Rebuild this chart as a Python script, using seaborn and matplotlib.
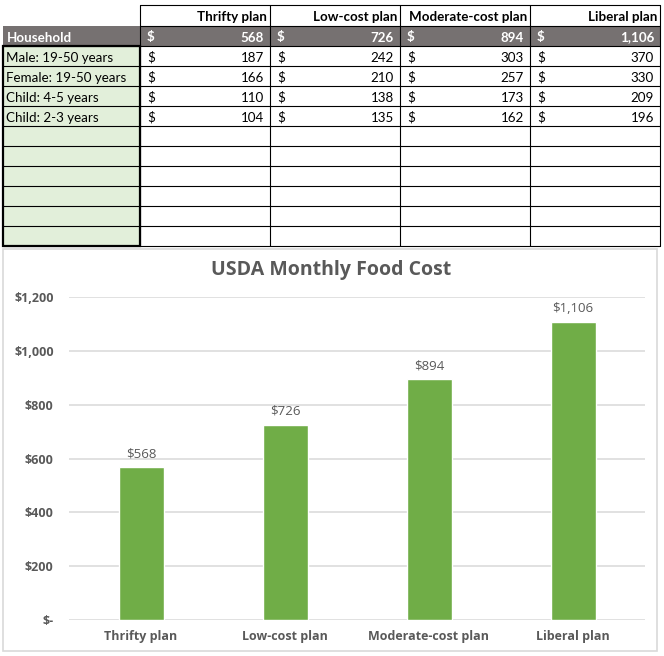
import matplotlib
matplotlib.use("Agg")
import matplotlib.pyplot as plt
import seaborn as sns
import pandas as pd
from matplotlib.patches import Rectangle
from matplotlib.ticker import FuncFormatter

# ---------------- data ----------------
plans = ["Thrifty plan", "Low-cost plan", "Moderate-cost plan", "Liberal plan"]
household = [568, 726, 894, 1106]
members = ["Male: 19-50 years", "Female: 19-50 years", "Child: 4-5 years", "Child: 2-3 years"]
male = [187, 242, 303, 370]
female = [166, 210, 257, 330]
child_4_5 = [110, 138, 173, 209]
child_2_3 = [104, 135, 162, 196]
household_label = "Household"
chart_title = "USDA Monthly Food Cost"
y_ticks = [0, 200, 400, 600, 800, 1000, 1200]

member_rows = [male, female, child_4_5, child_2_3]

# ---------------- style ----------------
sns.set_theme(style="white")
plt.rcParams["font.family"] = ["Lato", "DejaVu Sans"]

W, H = 664, 656
fig = plt.figure(figsize=(W / 100, H / 100), dpi=100)
fig.patch.set_facecolor("white")

# ---------------- table (pixel-space axes) ----------------
ax_t = fig.add_axes([0, 0, 1, 1])
ax_t.set_xlim(0, W)
ax_t.set_ylim(H, 0)
ax_t.axis("off")

col_x = [3, 140, 270, 400, 530, 660]
row_y = [5, 26, 46, 66, 86, 106, 126, 146, 166, 186, 206, 226, 246]
thin = 0.8
thick = 1.6
tfs = 9.6

# backgrounds
ax_t.add_patch(Rectangle((col_x[0], row_y[1]), col_x[-1] - col_x[0], row_y[2] - row_y[1],
                         facecolor="#767171", edgecolor="none", zorder=1))
ax_t.add_patch(Rectangle((col_x[0], row_y[2]), col_x[1] - col_x[0], row_y[-1] - row_y[2],
                         facecolor="#E2EFDA", edgecolor="none", zorder=1))

# horizontal grid lines
for i, y in enumerate(row_y):
    x0 = col_x[1] if i <= 1 else col_x[0]
    ax_t.plot([x0, col_x[-1]], [y, y], color="black", lw=thin, zorder=2)
# vertical grid lines
for x in col_x[1:]:
    ax_t.plot([x, x], [row_y[0], row_y[-1]], color="black", lw=thin, zorder=2)
# thick border around label column
ax_t.add_patch(Rectangle((col_x[0], row_y[2]), col_x[1] - col_x[0], row_y[-1] - row_y[2],
                         facecolor="none", edgecolor="black", lw=thick, zorder=3))

def ymid(r):
    return (row_y[r] + row_y[r + 1]) / 2 + 1.5

# header
for j, p in enumerate(plans):
    ax_t.text(col_x[j + 2] - 3, ymid(0), p, ha="right", va="center",
              fontsize=tfs, fontweight="bold", color="black", zorder=4)

# household row
ax_t.text(col_x[0] + 4, ymid(1), household_label, ha="left", va="center",
          fontsize=tfs, fontweight="bold", color="white", zorder=4)
for j, v in enumerate(household):
    ax_t.text(col_x[j + 1] + 7, ymid(1), "$", ha="left", va="center",
              fontsize=tfs, fontweight="bold", color="white", zorder=4)
    ax_t.text(col_x[j + 2] - 6, ymid(1), f"{v:,}", ha="right", va="center",
              fontsize=tfs, fontweight="bold", color="white", zorder=4)

# member rows
for i, (name, vals) in enumerate(zip(members, member_rows)):
    r = i + 2
    ax_t.text(col_x[0] + 3, ymid(r), name, ha="left", va="center",
              fontsize=tfs, color="black", zorder=4)
    for j, v in enumerate(vals):
        ax_t.text(col_x[j + 1] + 7, ymid(r), "$", ha="left", va="center",
                  fontsize=tfs, color="black", zorder=4)
        ax_t.text(col_x[j + 2] - 6, ymid(r), f"{v:,}", ha="right", va="center",
                  fontsize=tfs, color="black", zorder=4)

# chart frame and title
ax_t.add_patch(Rectangle((3, 249), 654, 402, facecolor="none", edgecolor="#D9D9D9", lw=1.2, zorder=2))
ax_t.text(331, 270, chart_title, ha="center", va="center", fontsize=14,
          fontweight="bold", color="#595959", family=["Open Sans", "DejaVu Sans"])

# ---------------- bar chart ----------------
left_px, right_px, top_px, bottom_px = 69, 645, 297, 620
ax = fig.add_axes([left_px / W, (H - bottom_px) / H, (right_px - left_px) / W, (bottom_px - top_px) / H])
df = pd.DataFrame({"plan": plans, "cost": household})
sns.barplot(data=df, x="plan", y="cost", color="#70AD47", saturation=1, width=0.3125, ax=ax, zorder=3)
ax.set_ylim(0, 1200)
ax.set_yticks(y_ticks)
ax.yaxis.set_major_formatter(FuncFormatter(lambda v, p: "$-" if v == 0 else f"${v:,.0f}"))
ax.yaxis.grid(True, color="#D9D9D9", lw=1.1)
ax.set_axisbelow(True)
for s in ax.spines.values():
    s.set_visible(False)
ax.set_xlabel("")
ax.set_ylabel("")
ax.tick_params(axis="both", length=0)
ax.tick_params(axis="y", pad=11)
ax.tick_params(axis="x", pad=7)
for lab in ax.get_yticklabels() + ax.get_xticklabels():
    lab.set_fontweight("bold")
    lab.set_color("#595959")
    lab.set_fontsize(9)
    lab.set_family(["Open Sans", "DejaVu Sans"])
ax.patch.set_alpha(0)
for c in ax.containers:
    labels = ax.bar_label(c, labels=[f"${v:,.0f}" for v in c.datavalues], padding=5,
                          fontsize=9.5, color="#595959")
    for t in labels:
        t.set_family(["Open Sans", "DejaVu Sans"])

fig.savefig("out.png", dpi=100, facecolor="white")
